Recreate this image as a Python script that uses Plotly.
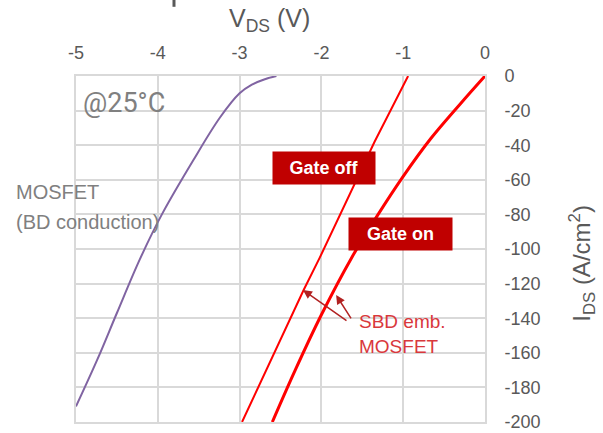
import plotly.graph_objects as go

# MOSFET body-diode conduction curve
bd_v = [-2.55, -2.7, -2.85, -3.0, -3.24, -3.57, -3.95, -4.22, -4.5, -4.74, -5.0]
bd_i = [0, -2, -5, -10, -24, -49, -80, -106, -137, -164, -191]

# SBD embedded MOSFET, gate off
off_v = [-0.94, -1.35, -2.02, -2.22, -2.97]
off_i = [0, -38, -105, -124, -200]

# SBD embedded MOSFET, gate on
on_v = [0.0, -0.3, -0.66, -1.0, -1.32, -1.63, -2.0, -2.32, -2.6]
on_i = [0, -16, -36, -58, -81, -105, -138, -170, -200]

x_ticks = [-5, -4, -3, -2, -1, 0]
y_ticks = list(range(-200, 1, 20))

TICK_COLOR = "#595959"
GRID = "#D9D9D9"
FONT = "Liberation Sans, Arial, sans-serif"

fig = go.Figure()
fig.add_trace(go.Scatter(x=bd_v, y=bd_i, mode="lines", line=dict(color="#8064A2", width=2, shape="spline"), showlegend=False))
fig.add_trace(go.Scatter(x=off_v, y=off_i, mode="lines", line=dict(color="#FF0000", width=2), showlegend=False))
fig.add_trace(go.Scatter(x=on_v, y=on_i, mode="lines", line=dict(color="#FF0000", width=3, shape="spline", smoothing=1.0), showlegend=False))

fig.update_layout(
    width=603, height=433,
    margin=dict(l=76, r=118, t=76, b=11),
    paper_bgcolor="white", plot_bgcolor="white",
    font=dict(family=FONT, color=TICK_COLOR),
    xaxis=dict(side="top", range=[-5, 0], tickvals=x_ticks, ticktext=[str(v) for v in x_ticks],
               showgrid=True, gridcolor=GRID, gridwidth=1.5, zeroline=False, automargin=False,
               showline=True, linecolor=GRID, linewidth=2, mirror=True,
               tickfont=dict(size=18, color=TICK_COLOR), ticks="", ticklabelstandoff=8),
    yaxis=dict(side="right", range=[-200, 0], tickvals=y_ticks, ticktext=[str(v) for v in y_ticks],
               showgrid=True, gridcolor=GRID, gridwidth=1.5, zeroline=False, automargin=False,
               showline=True, linecolor=GRID, linewidth=2, mirror=True,
               tickfont=dict(size=18, color=TICK_COLOR), ticks="", ticklabelstandoff=14),
)

ann = []
# axis titles
ann.append(dict(xref="paper", yref="paper", x=0.474, y=1.162, xanchor="center", yanchor="middle",
                showarrow=False, text="V<sub>DS</sub> (V)", font=dict(size=25, color=TICK_COLOR)))
ann.append(dict(xref="paper", yref="paper", x=1.237, y=0.46, xanchor="center", yanchor="middle",
                showarrow=False, textangle=-90,
                text="I<sub>DS</sub> (A/cm<sup>2</sup>)", font=dict(size=24, color=TICK_COLOR)))
# temperature
ann.append(dict(xref="paper", yref="paper", x=0.117, y=0.922, xanchor="center", yanchor="middle",
                showarrow=False, text="@25°C",
                font=dict(family="Roboto, sans-serif", size=27, color="#808080")))
# MOSFET (BD conduction)
ann.append(dict(xref="paper", yref="paper", x=-0.1516, y=0.665, xanchor="left", yanchor="middle",
                showarrow=False, text="MOSFET", font=dict(size=20, color="#808080")))
ann.append(dict(xref="paper", yref="paper", x=-0.1516, y=0.578, xanchor="left", yanchor="middle",
                showarrow=False, text="(BD conduction)", font=dict(size=20, color="#808080")))
# Gate boxes
ann.append(dict(xref="paper", yref="paper", x=0.606, y=0.734, xanchor="center", yanchor="middle",
                showarrow=False, text="<b>Gate off</b>", font=dict(size=18, color="white"),
                bgcolor="#C00000", width=98, height=28, borderpad=2, align="center"))
ann.append(dict(xref="paper", yref="paper", x=0.793, y=0.543, xanchor="center", yanchor="middle",
                showarrow=False, text="<b>Gate on</b>", font=dict(size=18, color="white"),
                bgcolor="#C00000", width=99, height=28, borderpad=2, align="center"))
# SBD emb. MOSFET
ann.append(dict(xref="paper", yref="paper", x=0.687, y=0.254, xanchor="left", yanchor="middle",
                showarrow=False, text="SBD emb.<br>MOSFET", align="left",
                font=dict(size=19, color="#D9383C")))
# arrows
ann.append(dict(xref="x", yref="y", x=-2.225, y=-123.7, ax=-1.675, ay=-142, axref="x", ayref="y",
                showarrow=True, arrowhead=2, arrowsize=1.2, arrowwidth=1.5, arrowcolor="#B22222", text=""))
ann.append(dict(xref="x", yref="y", x=-1.82, y=-126.6, ax=-1.626, ay=-141, axref="x", ayref="y",
                showarrow=True, arrowhead=2, arrowsize=1.2, arrowwidth=1.5, arrowcolor="#B22222", text=""))
fig.update_layout(annotations=ann)

# cut-off fragment of text at the top edge
fig.add_shape(type="line", xref="paper", yref="paper", x0=0.2396, x1=0.2396, y0=1.22, y1=1.2,
              line=dict(color="#595959", width=3))

fig.write_html("out.html")
